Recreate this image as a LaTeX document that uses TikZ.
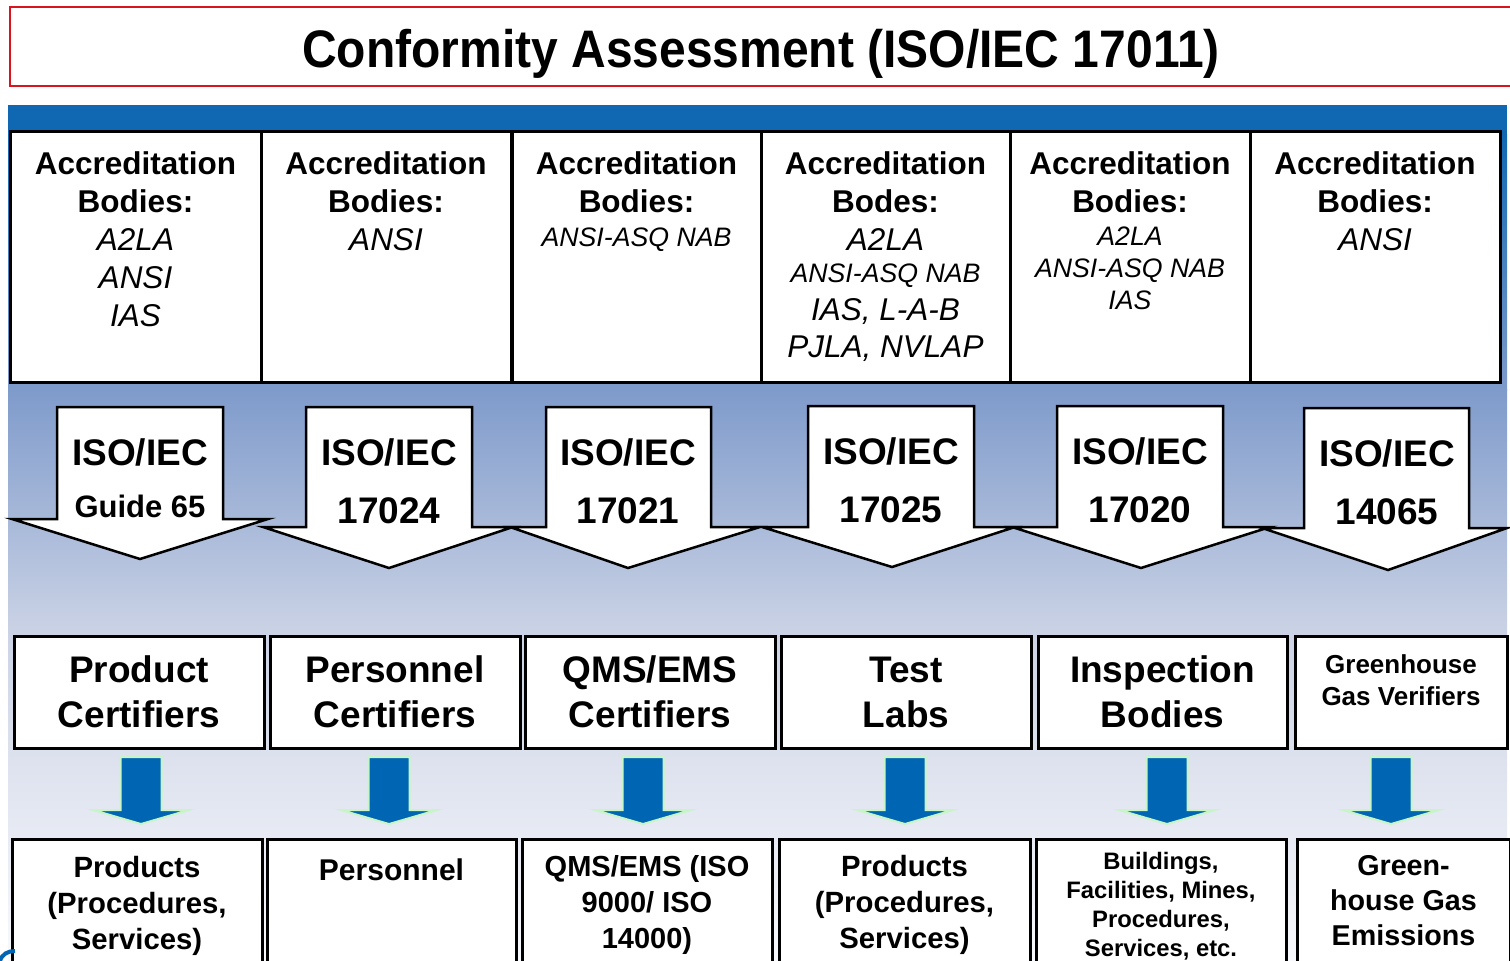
\documentclass[tikz,border=0pt]{standalone}
\usepackage{graphicx}
\usepackage{fontspec}
\setmainfont{Liberation Sans}
\usetikzlibrary{positioning, calc}
\definecolor{titlered}{RGB}{218,20,30}
\definecolor{bandblue}{RGB}{16,104,178}
\definecolor{midblue}{RGB}{127,155,203}
\definecolor{paleblue}{RGB}{205,212,230}
\definecolor{fadeblue}{RGB}{248,249,252}
\definecolor{arrowblue}{RGB}{0,102,179}
\definecolor{glowgreen}{RGB}{200,245,200}
\newcommand{\setfs}[2]{\fontsize{#1}{#2}\selectfont}

\begin{document}
\begin{tikzpicture}[x=1pt, y=-1pt,
  titlebox/.style={rectangle, draw=titlered, line width=2.5pt,
    minimum width=1504pt, minimum height=79pt},
  accbox/.style={rectangle, draw=black, line width=3pt, fill=white,
    minimum height=251pt, inner sep=0pt},
  acctext/.style={align=center, inner sep=0pt, font=\setfs{31.5}{38}\bfseries},
  isoarrow/.style={draw=black, line width=2.5pt, fill=white, line join=miter},
  isotext/.style={align=center, inner sep=0pt, anchor=north,
    font=\setfs{37}{58}\bfseries},
  certbox/.style={rectangle, draw=black, line width=3pt, fill=white,
    minimum height=112pt, inner sep=0pt, align=center,
    font=\setfs{37}{45}\bfseries},
  objbox/.style={rectangle, draw=black, line width=3pt, fill=white,
    minimum height=150pt, inner sep=0pt},
  objtext/.style={align=center, inner sep=0pt, font=\setfs{29.3}{36}\bfseries},
  bluearrow/.style={fill=arrowblue, draw=glowgreen, line width=2pt, line join=miter}
]
\useasboundingbox (0,0) rectangle (1510,961);
\clip (0,0) rectangle (1510,961);

% -- title --
\node[titlebox] (titleframe) at (762,46.5) {};
\node[anchor=base, inner sep=0pt, font=\setfs{48}{58}\bfseries] (title) at (761,67)
  {\scalebox{1}[1.1]{Conformity Assessment (ISO/IEC 17011)}};

% -- background --
\fill[bandblue] (8,105) rectangle (1507,135);
\fill[top color=bandblue, bottom color=midblue] (8,134.5) rectangle (1507,390);
\fill[top color=midblue, bottom color=paleblue] (8,389.5) rectangle (1507,640);
\fill[top color=paleblue, bottom color=fadeblue] (8,639.5) rectangle (1507,961);

% -- accreditation bodies --
\node[accbox, minimum width=251pt] (acc1) at (135.5,256.5) {};
\node[accbox, minimum width=250pt] (acc2) at (386,256.5) {};
\node[accbox, minimum width=249pt] (acc3) at (636.5,256.5) {};
\node[accbox, minimum width=249pt] (acc4) at (885.5,256.5) {};
\node[accbox, minimum width=240pt] (acc5) at (1130,256.5) {};
\node[accbox, minimum width=250pt] (acc6) at (1375,256.5) {};

\node[acctext, below=22pt of acc1.north] (acc1text)
  {Accreditation\\Bodies:\\{\mdseries\itshape A2LA}\\{\mdseries\itshape ANSI}\\{\mdseries\itshape IAS}};
\node[acctext, below=22pt of acc2.north] (acc2text)
  {Accreditation\\Bodies:\\{\mdseries\itshape ANSI}};
\node[acctext, below=22pt of acc3.north] (acc3text)
  {Accreditation\\Bodies:\\[-4pt]{\setfs{26.7}{32}\mdseries\itshape ANSI-ASQ NAB}};
\node[acctext, below=22pt of acc4.north] (acc4text)
  {Accreditation\\Bodes:\\{\mdseries\itshape A2LA}\\[-6pt]{\setfs{26.7}{32}\mdseries\itshape ANSI-ASQ NAB}\\
   {\mdseries\itshape IAS, L-A-B}\\[-1pt]{\mdseries\itshape PJLA, NVLAP}};
\node[acctext, below=22pt of acc5.north] (acc5text)
  {Accreditation\\Bodies:\\[-5pt]{\setfs{26.7}{32}\mdseries\itshape A2LA}\\[-6pt]
   {\setfs{26.7}{32}\mdseries\itshape ANSI-ASQ NAB}\\[-6pt]{\setfs{26.7}{32}\mdseries\itshape IAS}};
\node[acctext, below=22pt of acc6.north] (acc6text)
  {Accreditation\\Bodies:\\{\mdseries\itshape ANSI}};

% -- standards (white block arrows) --
\foreach \xl/\xr/\yt/\ys/\hl/\hr/\xt/\yp in {57/223/407/519/12/268/140/559,
    306/472/407/527/263/513/389/568, 546/711/407/527/510/760/628/568,
    808/974/406/527/762/1015/892/567, 1057/1223/406/527/1012/1270/1141/568,
    1304/1469/408/528/1262/1507/1388/570}
  \draw[isoarrow] (\xl,\yt) -- (\xr,\yt) -- (\xr,\ys) -- (\hr,\ys) -- (\xt,\yp)
    -- (\hl,\ys) -- (\xl,\ys) -- cycle;

\node[isotext] (std1) at (140,438) {ISO/IEC\\[-6pt]{\setfs{31}{38}Guide 65}};
\node[isotext] (std2) at (389,438) {ISO/IEC\\17024};
\node[isotext] (std3) at (628,438) {ISO/IEC\\17021};
\node[isotext] (std4) at (891,437) {ISO/IEC\\17025};
\node[isotext] (std5) at (1140,437) {ISO/IEC\\17020};
\node[isotext] (std6) at (1387,439) {ISO/IEC\\14065};

% -- certifiers --
\node[certbox, minimum width=250pt] (cert1) at (139,692) {Product\\Certifiers};
\node[certbox, minimum width=250pt] (cert2) at (395,692) {Personnel\\Certifiers};
\node[certbox, minimum width=250pt] (cert3) at (650,692) {QMS/EMS\\Certifiers};
\node[certbox, minimum width=250pt] (cert4) at (906,692) {Test\\Labs};
\node[certbox, minimum width=249pt] (cert5) at (1162.5,692) {Inspection\\Bodies};
\node[certbox, minimum width=212pt, font=\setfs{26}{32}\bfseries, text depth=24pt]
  (cert6) at (1401,692) {Greenhouse\\Gas Verifiers};

% -- blue arrows --
\foreach \cx in {141,389,643,905,1167,1391}
  \draw[bluearrow] (\cx-20.5,757) -- (\cx+20.5,757) -- (\cx+20.5,810) -- (\cx+48,810)
    -- (\cx,824) -- (\cx-48,810) -- (\cx-20.5,810) -- cycle;

% -- objects of assessment --
\node[objbox, minimum width=250pt] (obj1) at (137,914) {};
\node[objbox, minimum width=249pt] (obj2) at (391.5,914) {};
\node[objbox, minimum width=250pt] (obj3) at (647,914) {};
\node[objbox, minimum width=251pt] (obj4) at (904.5,914) {};
\node[objbox, minimum width=250pt] (obj5) at (1161,914) {};
\node[objbox, minimum width=213pt] (obj6) at (1403.5,914) {};

\node[objtext, below=19pt of obj1.north] (obj1text) {Products\\(Procedures,\\Services)};
\node[objtext, below=21pt of obj2.north, font=\setfs{30}{36}\bfseries] (obj2text) {Personnel};
\node[objtext, below=18pt of obj3.north, font=\setfs{29}{36}\bfseries] (obj3text) {QMS/EMS (ISO\\9000/ ISO\\14000)};
\node[objtext, below=18pt of obj4.north] (obj4text) {Products\\(Procedures,\\Services)};
\node[objtext, below=15pt of obj5.north, font=\setfs{23.8}{29}\bfseries] (obj5text)
  {Buildings,\\Facilities, Mines,\\Procedures,\\Services, etc.};
\node[objtext, below=18pt of obj6.north, font=\setfs{28.7}{35}\bfseries] (obj6text)
  {Green-\\house Gas\\Emissions};

% -- logo edge --
\draw[arrowblue, line width=4pt] (0,961) .. controls (2,954) and (8,951) .. (15,951);
\end{tikzpicture}
\end{document}
